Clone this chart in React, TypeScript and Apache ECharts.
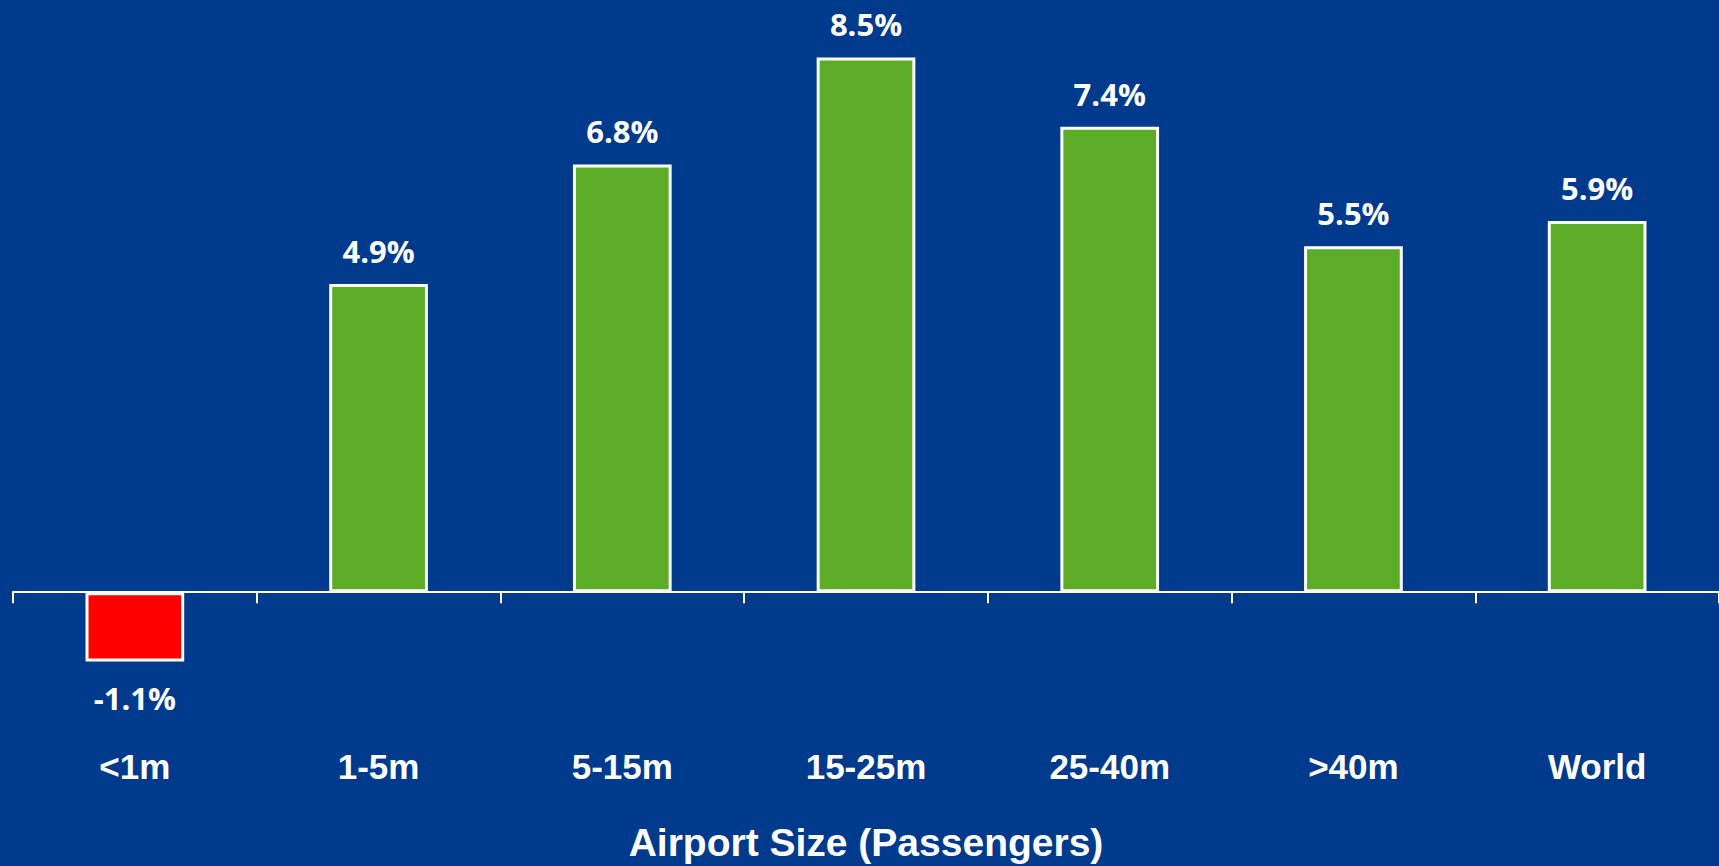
import React, { useEffect, useRef } from "react";
import * as echarts from "echarts";

const categories = ["<1m", "1-5m", "5-15m", "15-25m", "25-40m", ">40m", "World"];
const growth = [-1.1, 4.9, 6.8, 8.5, 7.4, 5.5, 5.9];
const axisTitle = "Airport Size (Passengers)";

const BG = "#003A8C";
const GREEN = "#5DAC27";
const RED = "#FF0000";

export default function App() {
  const ref = useRef<HTMLDivElement>(null);
  useEffect(() => {
    if (!ref.current) return;
    const chart = echarts.init(ref.current, undefined, { renderer: "svg" });
    chart.setOption({
      animation: false,
      backgroundColor: BG,
      grid: { left: 13, right: 0, top: 26, bottom: 148, containLabel: false, outerBoundsMode: "none" },
      xAxis: {
        type: "category",
        data: categories,
        boundaryGap: true,
        name: axisTitle,
        nameLocation: "middle",
        nameGap: 103,
        nameTextStyle: {
          color: "#ffffff",
          fontFamily: "Liberation Sans, Arial, sans-serif",
          fontWeight: "bold",
          fontSize: 39,
          lineHeight: 42,
        },
        axisLine: { show: true, onZero: true, lineStyle: { color: "#ffffff", width: 2 } },
        axisTick: { show: true, alignWithLabel: false, length: 11, inside: false, lineStyle: { color: "#ffffff", width: 2 } },
        axisLabel: {
          color: "#ffffff",
          fontFamily: "Liberation Sans, Arial, sans-serif",
          fontWeight: "bold",
          fontSize: 35,
          lineHeight: 40,
          margin: 28,
          interval: 0,
        },
        splitLine: { show: false },
      },
      yAxis: {
        type: "value",
        min: -2,
        max: 9,
        show: false,
        splitLine: { show: false },
      },
      series: [
        {
          type: "bar",
          barWidth: "40.5%",
          data: growth.map((v) => ({
            value: v,
            itemStyle: { color: v < 0 ? RED : GREEN },
            label: { position: v < 0 ? "bottom" : "top", distance: v < 0 ? 20 : 16 },
          })),
          itemStyle: { borderColor: "#ffffff", borderWidth: 3 },
          label: {
            show: true,
            color: "#ffffff",
            fontFamily: "Open Sans, sans-serif",
            fontWeight: "bold",
            fontSize: 31,
            lineHeight: 34,
            formatter: (p: any) => `${Number(p.value).toFixed(1)}%`,
          },
        },
      ],
    });
    return () => chart.dispose();
  }, []);
  return (
    <div
      ref={ref}
      style={{ position: "fixed", left: 0, top: 0, width: 1719, height: 866 }}
    />
  );
}
